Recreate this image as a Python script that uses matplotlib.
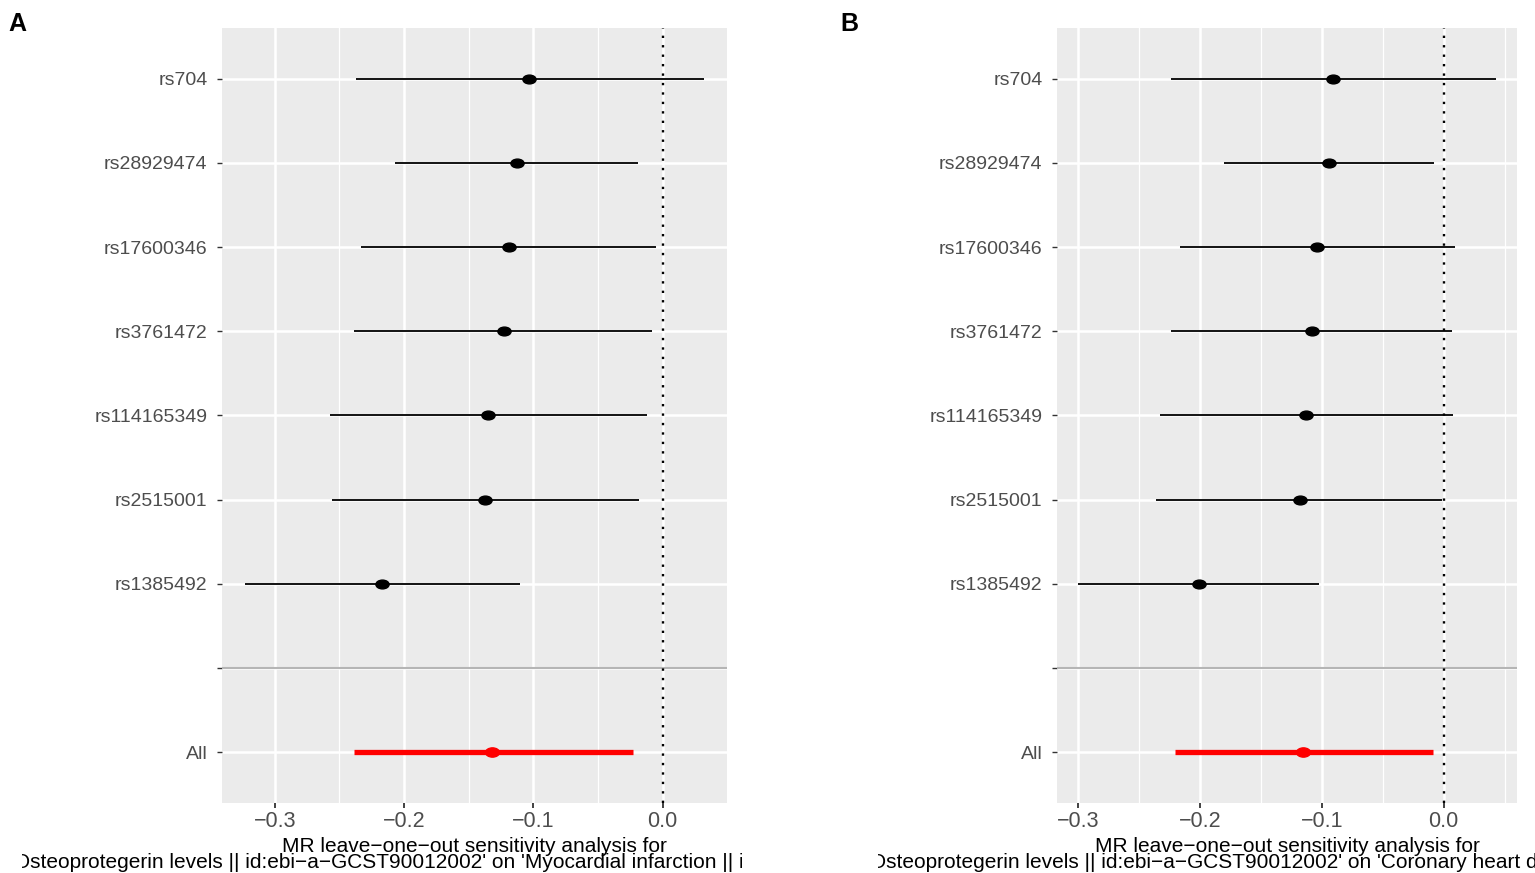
import matplotlib
matplotlib.use("Agg")
import matplotlib.pyplot as plt
import numpy as np
from matplotlib.path import Path
from matplotlib.ticker import MultipleLocator
from matplotlib.transforms import Bbox, TransformedBbox

plt.rcParams["font.family"] = ["Liberation Sans", "DejaVu Sans"]

snps = ["rs704", "rs28929474", "rs17600346", "rs3761472",
        "rs114165349", "rs2515001", "rs1385492"]

# panel A - myocardial infarction
mi_b = [-0.103, -0.113, -0.119, -0.123, -0.135, -0.137, -0.217]
mi_lo = [-0.237, -0.207, -0.233, -0.239, -0.257, -0.256, -0.323]
mi_hi = [0.032, -0.019, -0.005, -0.008, -0.012, -0.018, -0.110]
mi_all = [-0.132, -0.239, -0.023]  # b, lo, hi

# panel B - coronary heart disease
chd_b = [-0.091, -0.094, -0.104, -0.108, -0.113, -0.118, -0.201]
chd_lo = [-0.224, -0.180, -0.216, -0.224, -0.233, -0.236, -0.300]
chd_hi = [0.043, -0.008, 0.009, 0.007, 0.008, -0.001, -0.102]
chd_all = [-0.115, -0.220, -0.009]

exposure = "Osteoprotegerin levels || id:ebi-a-GCST90012002"
outcome_a = "Myocardial infarction || id:finn-b-I9_MI"
outcome_b = "Coronary heart disease || id:finn-b-I9_CHD"

W, H = 1535, 873
fig = plt.figure(figsize=(W / 100, H / 100), dpi=100)

# slightly flattened dot, the original figure was stretched sideways
circ = Path.unit_circle()
dot = Path(circ.vertices * np.array([1.5, 1.0]), circ.codes)


def leave_one_out(ax, b, lo, hi, all_vals):
    n = len(snps)
    ys = [n + 2 - i for i in range(n)]
    ax.set_facecolor("#EBEBEB")
    for s in ax.spines.values():
        s.set_visible(False)

    xmin = min(min(lo), all_vals[1])
    xmax = max(max(hi), all_vals[2])
    pad = 0.05 * (xmax - xmin)
    ax.set_xlim(xmin - pad, xmax + pad)
    ax.set_ylim(0.4, n + 2.6)

    ax.xaxis.set_major_locator(MultipleLocator(0.1))
    ax.xaxis.set_minor_locator(MultipleLocator(0.05))
    ax.xaxis.set_major_formatter(lambda v, p: f"{v:.1f}".replace("-", "\u2212"))
    ax.set_yticks(range(1, n + 3))
    ax.set_yticklabels(["All", ""] + snps[::-1])

    ax.grid(which="major", color="white", lw=1.8)
    ax.grid(which="minor", axis="x", color="white", lw=0.9)
    ax.set_axisbelow(True)
    ax.tick_params(axis="x", which="major", length=3.5, width=1.3, color="#333333",
                   labelsize=15.5, labelcolor="#4D4D4D", pad=2)
    ax.tick_params(axis="y", which="major", length=3.5, width=1.0, color="#333333",
                   labelsize=14, labelcolor="#4D4D4D", pad=7)
    ax.tick_params(which="minor", length=0)

    ax.axhline(2, color="#B5B5B5", lw=1.5, zorder=1.5)
    ax.axvline(0, color="black", lw=1.7, ls=(0, (1, 3)), zorder=1.6)

    ax.hlines(ys, lo, hi, color="black", lw=1.3, zorder=2)
    ax.plot(b, ys, ls="none", marker=dot, ms=9.5, color="black", zorder=3)
    ax.hlines(1, all_vals[1], all_vals[2], color="#FF0000", lw=3.8, zorder=2)
    ax.plot([all_vals[0]], [1], ls="none", marker=dot, ms=10, color="#FF0000", zorder=3)


def clipped_label(x_center, x_start, clip, outcome):
    fig.text(x_center / W, (H - 852) / H,
             "MR leave-one-out sensitivity analysis for".replace("-", "\u2212"),
             ha="center", va="baseline", fontsize=15, color="black")
    line2 = f"'{exposure}' on '{outcome}'".replace("-", "\u2212")
    t = fig.text(x_start / W, (H - 868) / H, line2, ha="left", va="baseline",
                 fontsize=15, color="black")
    t.set_clip_box(TransformedBbox(Bbox([[clip[0] / W, 0], [clip[1] / W, 1]]),
                                   fig.transFigure))
    t.set_clip_on(True)


ax_a = fig.add_axes([222 / W, 70 / H, 505 / W, 775 / H])
ax_b = fig.add_axes([1057 / W, 70 / H, 460 / W, 775 / H])

leave_one_out(ax_a, mi_b, mi_lo, mi_hi, mi_all)
leave_one_out(ax_b, chd_b, chd_lo, chd_hi, chd_all)

clipped_label(474.5, 10, (22, 742), outcome_a)
clipped_label(1287, 866, (878, 1535), outcome_b)

fig.text(8 / W, (H - 31) / H, "A", fontsize=18, fontweight="bold", va="baseline")
fig.text(840 / W, (H - 31) / H, "B", fontsize=18, fontweight="bold", va="baseline")

fig.savefig("out.png", dpi=100)
